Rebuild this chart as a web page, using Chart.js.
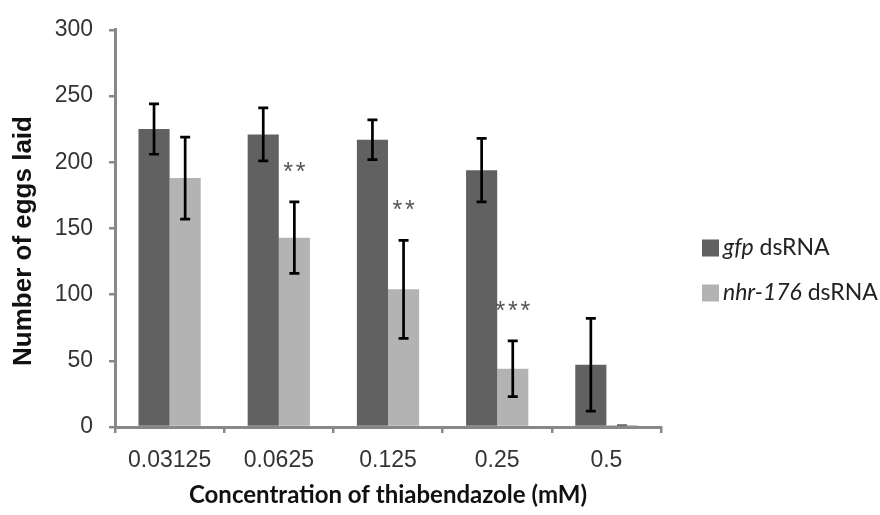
<!DOCTYPE html>
<html>
<head>
<meta charset="utf-8">
<script src="https://cdn.jsdelivr.net/npm/chart.js@4/dist/chart.umd.min.js"></script>
<style>
  html, body { margin: 0; padding: 0; background: #fff; }
  #wrap { width: 880px; height: 515px; }
</style>
</head>
<body>
<div id="wrap"><canvas id="eggs-chart" width="880" height="515"></canvas></div>
<script>
// Egg laying vs thiabendazole concentration
const concentrations = ['0.03125', '0.0625', '0.125', '0.25', '0.5'];
const gfpEggs = [225, 221, 217, 194, 47];
const gfpErr = [19, 20, 15, 24, 35];
const nhrEggs = [188, 143, 104, 44, 1.5];
const nhrErr = [31, 27, 37, 21, 0];
const nhrSignif = ['', '**', '**', '***', ''];
const yTicks = [0, 50, 100, 150, 200, 250, 300];

const DARK = '#616161';
const LIGHT = '#b3b3b3';
const AXIS = '#888888';

// Draw error bars and significance stars on top of the bars
const errorBarPlugin = {
  id: 'errorBars',
  afterDatasetsDraw(chart) {
    const ctx = chart.ctx;
    const yScale = chart.scales.y;
    const errs = [gfpErr, nhrErr];
    ctx.save();
    ctx.strokeStyle = '#000';
    ctx.lineWidth = 2.7;
    chart.data.datasets.forEach((ds, i) => {
      const meta = chart.getDatasetMeta(i);
      meta.data.forEach((bar, j) => {
        const v = ds.data[j];
        const e = errs[i][j];
        const yTop = yScale.getPixelForValue(v + e);
        const yBot = yScale.getPixelForValue(v - e);
        if (e === 0) {
          // collapsed error bar: just a thin cap line
          ctx.save();
          ctx.lineWidth = 1.2;
          ctx.strokeStyle = '#333';
          ctx.beginPath();
          ctx.moveTo(bar.x - 5, yTop);
          ctx.lineTo(bar.x + 5, yTop);
          ctx.stroke();
          ctx.restore();
          return;
        }
        ctx.beginPath();
        ctx.moveTo(bar.x, yTop);
        ctx.lineTo(bar.x, yBot);
        ctx.moveTo(bar.x - 5, yTop);
        ctx.lineTo(bar.x + 5, yTop);
        ctx.moveTo(bar.x - 5, yBot);
        ctx.lineTo(bar.x + 5, yBot);
        ctx.stroke();
      });
    });

    // stars above the nhr-176 bars
    const nhrMeta = chart.getDatasetMeta(1);
    ctx.fillStyle = '#555';
    ctx.font = '25px "Liberation Sans", Arial, sans-serif';
    ctx.textAlign = 'center';
    ctx.textBaseline = 'middle';
    nhrSignif.forEach((s, j) => {
      if (!s) return;
      const bar = nhrMeta.data[j];
      const y = yScale.getPixelForValue(nhrEggs[j] + nhrErr[j]) - 30;
      for (let k = 0; k < s.length; k++) {
        ctx.fillText('*', bar.x + (k - (s.length - 1) / 2) * 12.5, y + 1);
      }
    });
    ctx.restore();
  }
};

// Legend with italic gene names, plus the rotated y title
const legendPlugin = {
  id: 'customLegend',
  afterDraw(chart) {
    const ctx = chart.ctx;
    const items = [
      { color: DARK, gene: 'gfp' },
      { color: LIGHT, gene: 'nhr-176' }
    ];
    ctx.save();
    items.forEach((it, k) => {
      const cy = 248 + k * 45;
      ctx.fillStyle = it.color;
      ctx.fillRect(702, cy - 8.5, 17, 17);
      ctx.fillStyle = '#222';
      ctx.textBaseline = 'middle';
      ctx.textAlign = 'left';
      ctx.font = 'italic 23px Lato, sans-serif';
      ctx.fillText(it.gene, 723, cy);
      const w = ctx.measureText(it.gene).width;
      ctx.font = '23px Lato, sans-serif';
      ctx.fillText(' dsRNA', 723 + w, cy);
    });

    ctx.translate(24, 241);
    ctx.rotate(-Math.PI / 2);
    ctx.fillStyle = '#111';
    ctx.font = 'bold 26px "Liberation Sans", Arial, sans-serif';
    ctx.textAlign = 'center';
    ctx.textBaseline = 'middle';
    ctx.fillText('Number of eggs laid', 0, 0);
    ctx.restore();
  }
};

new Chart(document.getElementById('eggs-chart'), {
  type: 'bar',
  data: {
    labels: concentrations,
    datasets: [
      {
        label: 'gfp dsRNA',
        data: gfpEggs,
        backgroundColor: DARK,
        borderWidth: 0,
        categoryPercentage: 0.57,
        barPercentage: 1
      },
      {
        label: 'nhr-176 dsRNA',
        data: nhrEggs,
        backgroundColor: LIGHT,
        borderWidth: 0,
        categoryPercentage: 0.57,
        barPercentage: 1
      }
    ]
  },
  options: {
    responsive: false,
    animation: false,
    layout: { padding: { top: 20, right: 219, left: 0, bottom: 0 } },
    plugins: {
      legend: { display: false },
      tooltip: { enabled: false }
    },
    scales: {
      x: {
        afterFit(scale) { scale.height = 88; },
        grid: { drawOnChartArea: false, tickLength: 6, color: AXIS, lineWidth: 2.5 },
        border: { color: AXIS, width: 3 },
        ticks: {
          color: '#333',
          padding: 14,
          font: { family: '"Liberation Sans", Arial, sans-serif', size: 23 }
        },
        title: {
          display: true,
          text: 'Concentration of thiabendazole (mM)',
          color: '#111',
          padding: { top: 4, bottom: 5 },
          font: { family: 'Lato, sans-serif', size: 24, weight: 'bold' }
        }
      },
      y: {
        min: 0,
        max: 300,
        afterFit(scale) { scale.width = 115; },
        afterBuildTicks(scale) { scale.ticks = yTicks.map(v => ({ value: v })); },
        grid: { drawOnChartArea: false, tickLength: 6, color: AXIS, lineWidth: 2.5 },
        border: { color: AXIS, width: 3 },
        ticks: {
          color: '#333',
          padding: 16,
          font: { family: '"Liberation Sans", Arial, sans-serif', size: 23 }
        }
      }
    }
  },
  plugins: [errorBarPlugin, legendPlugin]
});
</script>
</body>
</html>
